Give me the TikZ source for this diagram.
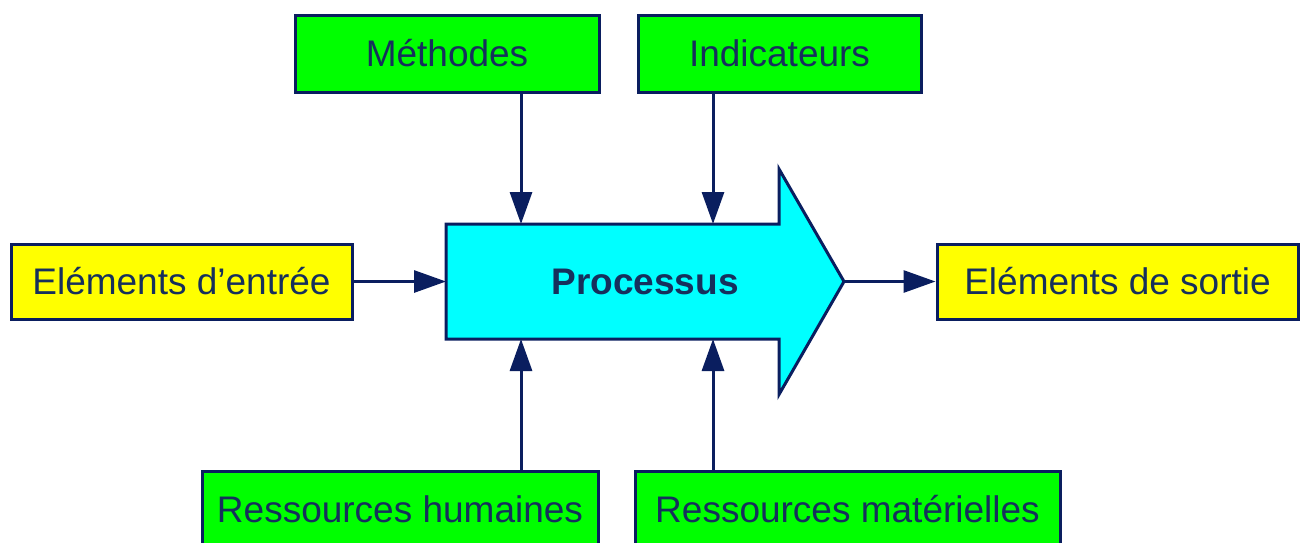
\documentclass[tikz,border=0pt]{standalone}
\usepackage{fontspec}
\setmainfont{Liberation Sans}
\usetikzlibrary{arrows.meta}
\definecolor{navy}{RGB}{10,30,95}
\definecolor{inktext}{RGB}{22,48,92}
\definecolor{boxgreen}{RGB}{0,255,0}
\definecolor{boxyellow}{RGB}{255,255,0}
\definecolor{aqua}{RGB}{0,255,255}

\begin{document}
\begin{tikzpicture}[x=0.5pt,y=-0.5pt,
  box/.style={draw=navy, line width=1.5pt, minimum height=38.5pt, inner sep=0pt, text=inktext, font=\fontsize{18.5}{22}\selectfont},
  res/.style={box, fill=boxgreen},
  put/.style={box, fill=boxyellow, minimum height=37.5pt},
  link/.style={draw=navy, line width=1.5pt, -{Triangle[length=16pt,width=11pt]}}]
\useasboundingbox (0,0) rectangle (1305,542);
\clip (0,0) rectangle (1305,542);
\draw[fill=aqua, draw=navy, line width=1.5pt, line join=miter] (446,224) -- (779,224) -- (779,169) -- (844,281.5) -- (779,394.5) -- (779,339) -- (446,339) -- cycle;
\node[inner sep=0pt, outer sep=0pt, minimum width=199pt, minimum height=57.5pt, text=inktext, font=\fontsize{18.5}{22}\selectfont\bfseries] (proc) at (645,281.5) {Processus};
\node[res, minimum width=152pt] (mth) at (447,53.5) {Méthodes};
\node[res, minimum width=141.5pt] (ind) at (779.5,53.5) {Indicateurs};
\node[put, minimum width=170.5pt] (ein) at (181.5,281.5) {Eléments d’entrée};
\node[put, minimum width=180.5pt] (sor) at (1117.5,281.5) {Eléments de sortie};
\node[res, minimum width=198pt] (rhu) at (400,509.5) {Ressources humaines};
\node[res, minimum width=212.5pt] (rma) at (847.5,509.5) {Ressources matérielles};
\coordinate (pa) at (521,224);
\coordinate (pb) at (713,224);
\coordinate (pc) at (521,339);
\coordinate (pd) at (713,339);
\draw[link] (mth.south -| pa) -- (pa);
\draw[link] (ind.south -| pb) -- (pb);
\draw[link] (rhu.north -| pc) -- (pc);
\draw[link] (rma.north -| pd) -- (pd);
\draw[link] (ein.east) -- (proc.west);
\draw[link] (proc.east) -- (sor.west);
\end{tikzpicture}
\end{document}
